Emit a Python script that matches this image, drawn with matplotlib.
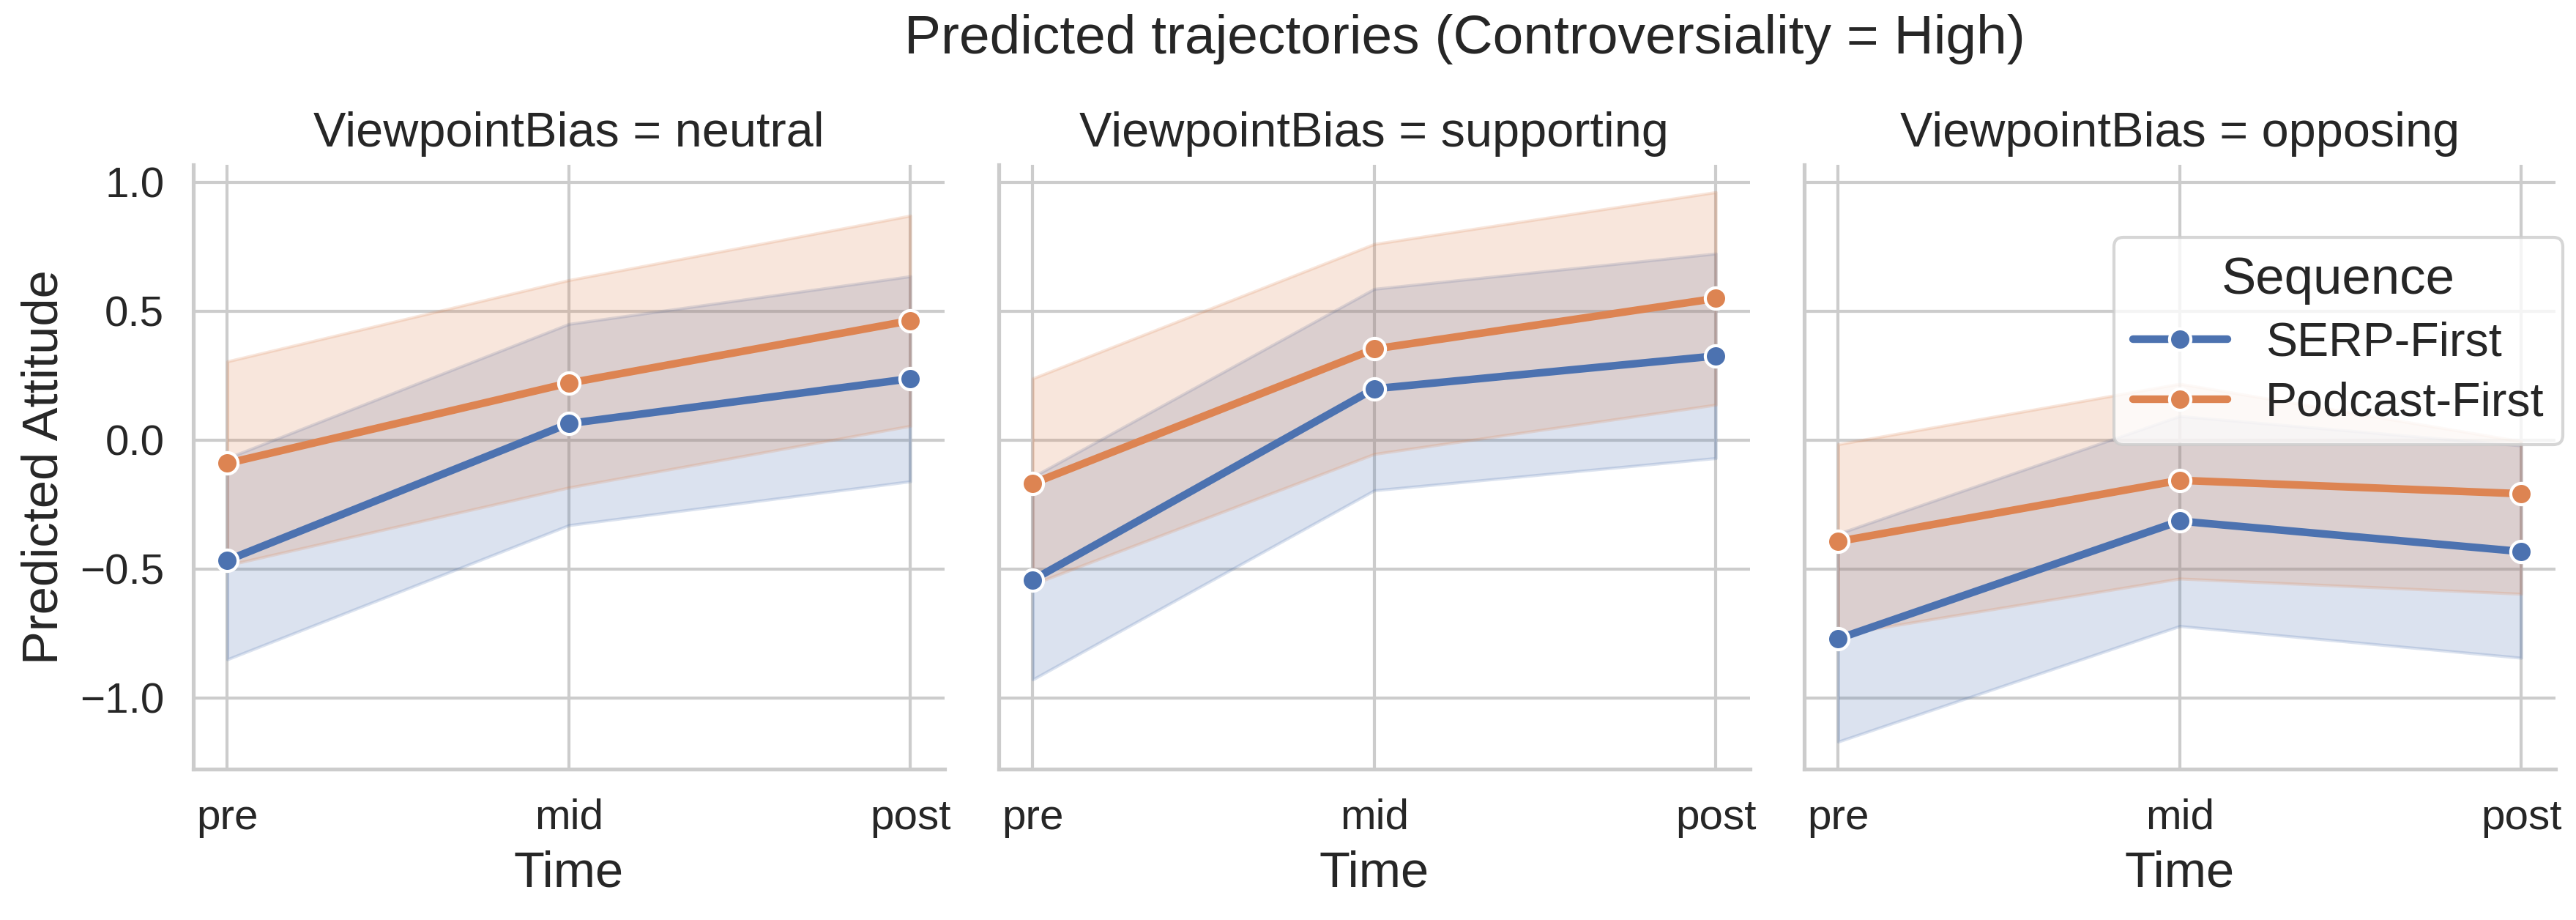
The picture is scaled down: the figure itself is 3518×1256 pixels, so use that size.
import numpy as np
import matplotlib.pyplot as plt
import seaborn as sns

# values
times = ["pre", "mid", "post"]
biases = ["neutral", "supporting", "opposing"]
sequences = ["SERP-First", "Podcast-First"]

serp_pred = {
    "neutral": [-0.466, 0.064, 0.238],
    "supporting": [-0.542, 0.199, 0.326],
    "opposing": [-0.770, -0.314, -0.432],
}
serp_lo = {
    "neutral": [-0.850, -0.330, -0.160],
    "supporting": [-0.928, -0.195, -0.070],
    "opposing": [-1.169, -0.721, -0.844],
}
serp_hi = {
    "neutral": [-0.070, 0.450, 0.635],
    "supporting": [-0.143, 0.586, 0.723],
    "opposing": [-0.363, 0.093, -0.021],
}
pod_pred = {
    "neutral": [-0.090, 0.221, 0.463],
    "supporting": [-0.168, 0.353, 0.549],
    "opposing": [-0.393, -0.156, -0.208],
}
pod_lo = {
    "neutral": [-0.485, -0.184, 0.055],
    "supporting": [-0.559, -0.054, 0.137],
    "opposing": [-0.754, -0.537, -0.596],
}
pod_hi = {
    "neutral": [0.305, 0.620, 0.870],
    "supporting": [0.239, 0.760, 0.961],
    "opposing": [-0.016, 0.218, -0.005],
}

sns.set_theme(style="whitegrid")
plt.rcParams["font.family"] = ["Liberation Sans", "DejaVu Sans"]

colors = sns.color_palette("deep")[:2]
series = [
    (sequences[0], serp_pred, serp_lo, serp_hi, colors[0]),
    (sequences[1], pod_pred, pod_lo, pod_hi, colors[1]),
]

fig, axes = plt.subplots(1, 3, figsize=(3518 / 300, 1256 / 300), dpi=300, sharey=True)
x = np.arange(len(times))

for ax, bias in zip(axes, biases):
    for name, pred, lo, hi, col in series:
        ax.fill_between(x, lo[bias], hi[bias], color=col, alpha=0.2, linewidth=1)
        ax.plot(x, pred[bias], color=col, linewidth=2.5, marker="o", markersize=7,
                markeredgecolor="white", markeredgewidth=1, label=name)
    ax.set_xticks(x)
    ax.set_xticklabels(times, fontsize=14)
    ax.tick_params(axis="y", labelsize=14)
    ax.set_xlabel("Time", fontsize=16.5)
    ax.set_title(f"ViewpointBias = {bias}", fontsize=16)
    for s in ["top", "right"]:
        ax.spines[s].set_visible(False)
    ax.spines["left"].set_linewidth(1.25)
    ax.spines["bottom"].set_linewidth(1.25)

axes[0].set_ylabel("Predicted Attitude", fontsize=16.5)
axes[2].legend(title="Sequence", loc="upper right", bbox_to_anchor=(1.01, 0.88),
               borderaxespad=0, fontsize=15.5, title_fontsize=17, labelspacing=0.35)

fig.suptitle("Predicted trajectories (Controversiality = High)", fontsize=18,
             x=0.5686, y=0.985)
fig.subplots_adjust(left=0.075, right=0.992, bottom=0.164, top=0.821, wspace=0.072)
fig.savefig("out.png", dpi=300)
